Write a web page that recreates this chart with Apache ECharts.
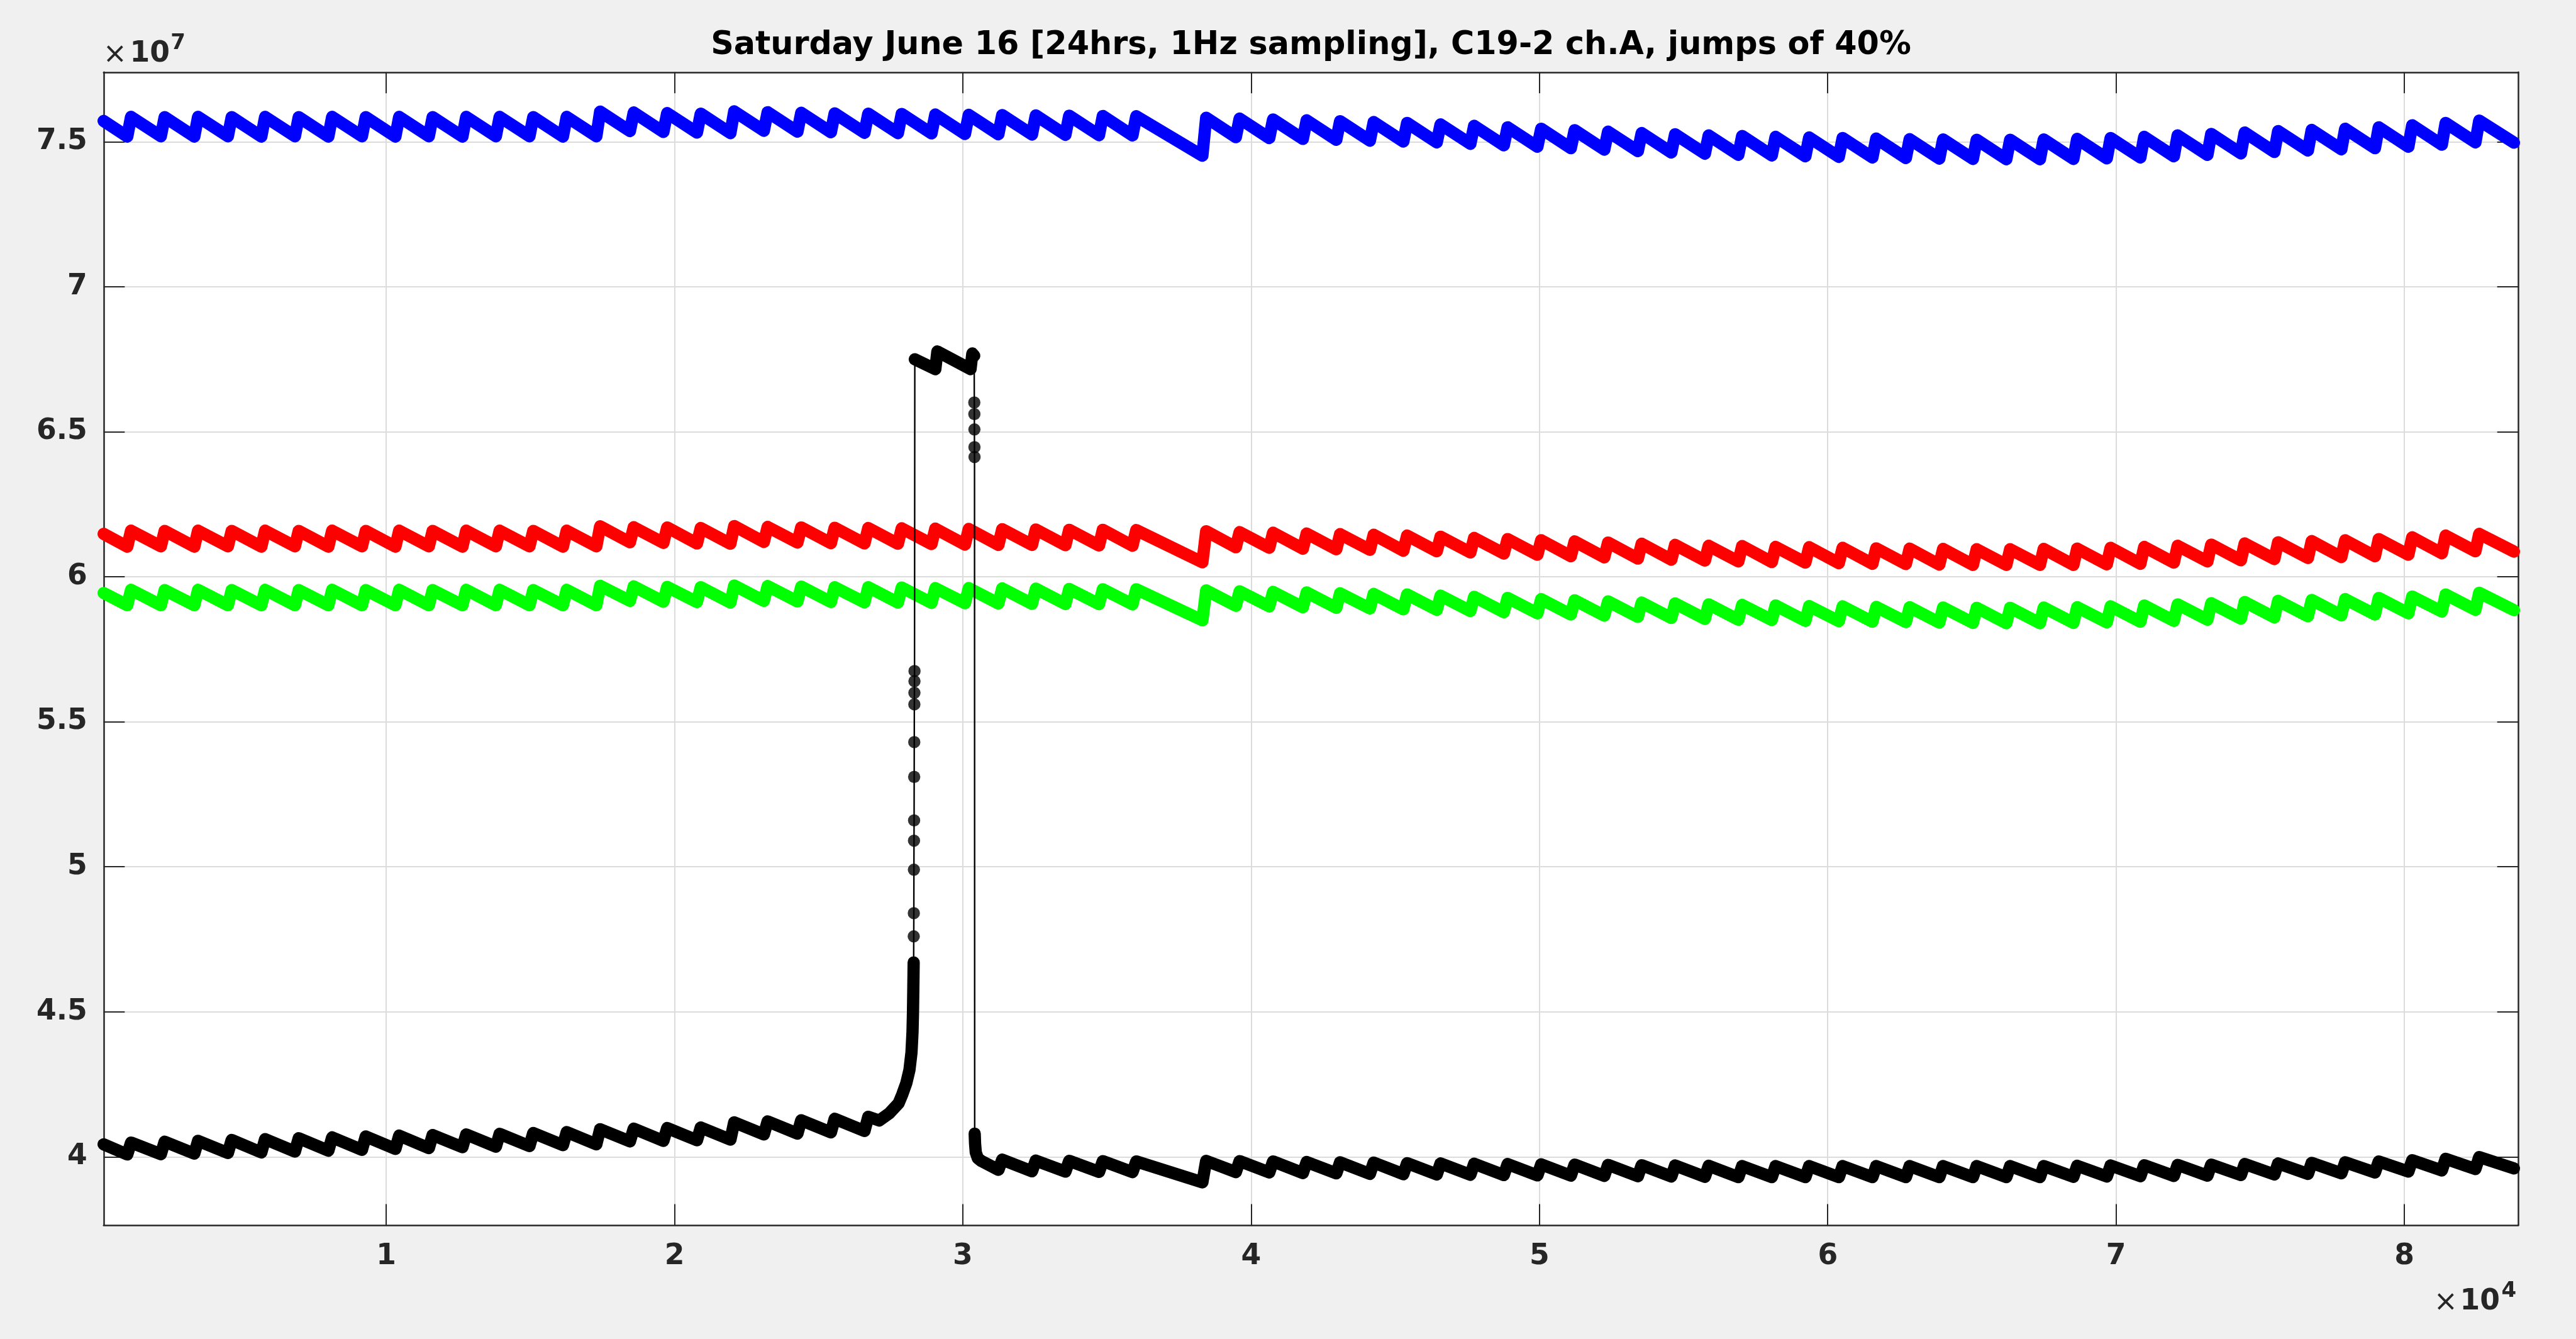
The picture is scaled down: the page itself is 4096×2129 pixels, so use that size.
<!DOCTYPE html>
<html><head><meta charset="utf-8">
<script src="https://cdn.jsdelivr.net/npm/echarts@6/dist/echarts.min.js"></script>
<style>html,body{margin:0;padding:0;background:#f0f0f0;}#c{width:4096px;height:2129px;}</style>
</head><body><div id="c"></div>
<script>
// ---------------- data (time in s, values in units of 1e7) ----------------
const titleText = 'Saturday June 16 [24hrs, 1Hz sampling], C19-2 ch.A, jumps of 40%';
const xTicks = [10000, 20000, 30000, 40000, 50000, 60000, 70000, 80000];
const yTicks = [4, 4.5, 5, 5.5, 6, 6.5, 7, 7.5];
const xMin = 200, xMax = 83950, yMin = 3.764, yMax = 7.74;
const startT = 200, endT = 83800;

// sawtooth peak times (fast rise ends) and trough times (slow decline ends)
const peakT = [1150,2315,3475,4640,5800,6965,8125,9290,10450,11610,12775,13935,15100,16260,17420,18585,19745,20910,22070,23230,24395,25555,26720,27880,29045,30205,31365,32530,33690,34855,36015,
38440,39600,40760,41925,43085,44250,45410,46570,47735,48895,50060,51220,52380,53545,54705,55870,57030,58190,59355,60515,61680,62840,64000,65165,66325,67490,68650,69810,70975,72135,73300,74460,75620,76785,77945,79110,80270,81430,82595];
const troughT = [1020,2185,3345,4510,5670,6835,7995,9160,10320,11480,12645,13805,14970,16130,17290,18455,19615,20780,21940,23100,24265,25425,26590,27750,28915,30075,31235,32400,33560,34725,35885,
38310,39470,40630,41795,42955,44120,45280,46440,47605,48765,49930,51090,52250,53415,54575,55740,56900,58060,59225,60385,61550,62710,63870,65035,66195,67360,68520,69680,70845,72005,73170,74330,75490,76655,77815,78980,80140,81300,82465];

// blue
const blueStart = 7.572, blueEnd = 7.497;
const bluePeak = [7.586,7.585,7.586,7.585,7.586,7.585,7.586,7.585,7.586,7.585,7.586,7.586,7.585,7.586,7.604,7.601,7.599,7.597,7.605,7.602,7.600,7.598,7.597,7.596,7.594,7.593,7.592,7.591,7.590,7.589,7.588,
7.583,7.580,7.577,7.574,7.571,7.568,7.565,7.560,7.555,7.550,7.545,7.540,7.535,7.530,7.526,7.522,7.520,7.517,7.515,7.513,7.511,7.509,7.508,7.507,7.507,7.508,7.510,7.513,7.517,7.522,7.527,7.532,7.537,7.541,7.545,7.550,7.557,7.565,7.573];
const blueTrough = [7.518,7.519,7.518,7.519,7.518,7.519,7.518,7.519,7.518,7.519,7.518,7.519,7.519,7.518,7.519,7.537,7.534,7.532,7.530,7.538,7.535,7.533,7.531,7.530,7.529,7.527,7.526,7.525,7.524,7.523,7.522,
7.452,7.516,7.513,7.510,7.507,7.504,7.501,7.498,7.493,7.488,7.483,7.478,7.473,7.468,7.463,7.459,7.455,7.453,7.450,7.448,7.446,7.444,7.442,7.441,7.440,7.440,7.441,7.443,7.446,7.450,7.455,7.460,7.465,7.470,7.474,7.478,7.483,7.490,7.498];

// red
const redStart = 6.148, redEnd = 6.087;
const redPeak = [6.159,6.158,6.159,6.158,6.159,6.158,6.159,6.158,6.159,6.158,6.159,6.159,6.158,6.159,6.174,6.171,6.170,6.168,6.175,6.172,6.170,6.169,6.168,6.167,6.166,6.165,6.164,6.163,6.162,6.162,6.161,
6.157,6.154,6.152,6.149,6.147,6.145,6.142,6.138,6.134,6.130,6.126,6.122,6.118,6.114,6.110,6.107,6.106,6.103,6.102,6.100,6.098,6.097,6.096,6.095,6.095,6.096,6.097,6.100,6.103,6.107,6.111,6.115,6.119,6.123,6.126,6.130,6.136,6.142,6.148];
const redTrough = [6.104,6.105,6.104,6.105,6.104,6.105,6.104,6.105,6.104,6.105,6.104,6.105,6.105,6.104,6.105,6.119,6.117,6.115,6.114,6.120,6.118,6.116,6.115,6.114,6.113,6.111,6.110,6.110,6.109,6.108,6.107,
6.050,6.102,6.100,6.097,6.095,6.093,6.090,6.088,6.084,6.080,6.076,6.071,6.067,6.063,6.059,6.056,6.053,6.051,6.049,6.047,6.045,6.044,6.042,6.041,6.041,6.041,6.041,6.043,6.045,6.049,6.053,6.057,6.061,6.065,6.068,6.071,6.076,6.081,6.088];

// green
const greenStart = 5.944, greenEnd = 5.885;
const greenPeak = [5.955,5.954,5.955,5.954,5.955,5.954,5.955,5.954,5.955,5.954,5.955,5.955,5.954,5.955,5.969,5.967,5.965,5.964,5.970,5.968,5.966,5.964,5.964,5.963,5.961,5.961,5.960,5.959,5.958,5.957,5.957,
5.953,5.950,5.948,5.946,5.943,5.941,5.939,5.935,5.931,5.927,5.923,5.919,5.915,5.911,5.908,5.905,5.903,5.901,5.899,5.898,5.896,5.895,5.894,5.893,5.893,5.894,5.895,5.898,5.901,5.905,5.909,5.913,5.917,5.920,5.923,5.927,5.932,5.939,5.945];
const greenTrough = [5.902,5.902,5.902,5.902,5.902,5.902,5.902,5.902,5.902,5.902,5.902,5.902,5.902,5.902,5.902,5.917,5.914,5.913,5.911,5.917,5.915,5.913,5.912,5.911,5.910,5.909,5.908,5.907,5.906,5.906,5.905,
5.850,5.900,5.898,5.895,5.893,5.891,5.888,5.886,5.882,5.878,5.874,5.870,5.866,5.862,5.858,5.855,5.852,5.851,5.848,5.847,5.845,5.844,5.842,5.841,5.840,5.840,5.841,5.843,5.845,5.848,5.852,5.856,5.860,5.864,5.867,5.870,5.874,5.880,5.886];

// black (null where the spike replaces the sawtooth)
const blackStart = 4.043, blackEnd = 3.960;
const blackPeak = [4.049,4.052,4.055,4.058,4.061,4.064,4.067,4.070,4.073,4.075,4.077,4.079,4.082,4.085,4.095,4.097,4.099,4.101,4.119,4.122,4.126,4.131,4.138,null,null,null,3.990,3.987,3.986,3.985,3.984,
3.986,3.985,3.984,3.982,3.981,3.980,3.978,3.977,3.976,3.975,3.974,3.973,3.972,3.971,3.970,3.969,3.968,3.968,3.968,3.968,3.968,3.968,3.968,3.968,3.968,3.968,3.969,3.970,3.971,3.972,3.973,3.975,3.977,3.979,3.981,3.984,3.988,3.993,3.999];
const blackTrough = [4.008,4.009,4.011,4.013,4.015,4.018,4.021,4.024,4.027,4.030,4.033,4.035,4.037,4.040,4.043,4.053,4.055,4.057,4.059,4.077,4.080,4.084,4.089,null,null,null,3.955,3.950,3.949,3.948,3.947,
3.912,3.947,3.946,3.944,3.943,3.941,3.940,3.939,3.938,3.937,3.936,3.935,3.934,3.933,3.932,3.931,3.930,3.930,3.930,3.930,3.930,3.930,3.930,3.930,3.930,3.930,3.931,3.932,3.933,3.934,3.935,3.937,3.939,3.941,3.943,3.946,3.949,3.953,3.958];
const blackRampT = [27100,27450,27770,27900,28040,28150,28220,28255,28272,28282,28290,28295];
const blackRampV = [4.125,4.150,4.184,4.215,4.254,4.300,4.360,4.430,4.500,4.570,4.630,4.670];
const blackRiseT = [28298,28301,28304,28307,28310,28313,28316,28319,28321,28323,28325];
const blackRiseV = [4.760,4.840,4.990,5.090,5.160,5.310,5.430,5.560,5.600,5.640,5.675];
const blackPlateauT = [28335,29047,29117,30268,30330,30395];
const blackPlateauV = [6.750,6.716,6.777,6.716,6.770,6.762];
const blackDropT = [30398,30400,30402,30404,30406];
const blackDropV = [6.601,6.561,6.508,6.447,6.413];
const blackSettleT = [30412,30425,30450,30520,30650];
const blackSettleV = [4.080,4.045,4.015,3.995,3.985];

// ---------------- build ----------------
function sawtooth(sv, troughs, peaks, ev, from, to) {
  const d = [];
  if (sv !== null) d.push([startT, sv]);
  for (let i = from; i < to; i++) {
    if (troughs[i] !== null) d.push([troughT[i], troughs[i]]);
    if (peaks[i] !== null) d.push([peakT[i], peaks[i]]);
  }
  if (ev !== null) d.push([endT, ev]);
  return d;
}
const zip = (t, v) => t.map((x, i) => [x, v[i]]);
const N = peakT.length;
const blueData = sawtooth(blueStart, blueTrough, bluePeak, blueEnd, 0, N);
const redData = sawtooth(redStart, redTrough, redPeak, redEnd, 0, N);
const greenData = sawtooth(greenStart, greenTrough, greenPeak, greenEnd, 0, N);
const blackPre = sawtooth(blackStart, blackTrough, blackPeak, null, 0, 23).concat(zip(blackRampT, blackRampV));
const blackPlateau = zip(blackPlateauT, blackPlateauV);
const blackPost = zip(blackSettleT, blackSettleV).concat(sawtooth(null, blackTrough, blackPeak, blackEnd, 26, N));
const blackSparse = zip(blackRiseT, blackRiseV).concat(zip(blackDropT, blackDropV));
const blackAll = blackPre.concat(zip(blackRiseT, blackRiseV), blackPlateau, zip(blackDropT, blackDropV), blackPost);

// ---------------- chart ----------------
const FF = '"DejaVu Sans", "Liberation Sans", sans-serif';
const AX = '#262626';
const W = 19.5;
const chart = echarts.init(document.getElementById('c'), null, {renderer: 'canvas', width: 4096, height: 2129});

const labelStyle = {color: AX, fontFamily: FF, fontWeight: 'bold', fontSize: 45.6};
const tickStyle = {show: true, inside: true, length: 33.5, lineStyle: {color: AX, width: 2}};
const lineAx = {show: true, onZero: false, lineStyle: {color: AX, width: 2.5}};
const split = {show: true, lineStyle: {color: '#dcdcdc', width: 2}};

function thick(name, data, color, width) {
  return {name, type: 'line', data, showSymbol: false, symbol: 'none', clip: false,
    lineStyle: {color, width, cap: 'round', join: 'round'}, emphasis: {disabled: true}, silent: true, animation: false};
}

chart.setOption({
  backgroundColor: '#f0f0f0',
  animation: false,
  grid: {left: 164.8, top: 114.8, width: 3839.4, height: 1833.3, show: true, backgroundColor: '#ffffff', borderWidth: 0, outerBoundsMode: 'none', containLabel: false},
  xAxis: [
    {type: 'value', position: 'bottom', min: xMin, max: xMax, splitNumber: 8, axisLine: lineAx,
     axisTick: Object.assign({customValues: xTicks}, tickStyle),
     axisLabel: Object.assign({customValues: xTicks, margin: 27, formatter: v => String(v / 1e4)}, labelStyle),
     splitLine: split},
    {type: 'value', position: 'top', min: xMin, max: xMax, splitNumber: 8, axisLine: lineAx,
     axisTick: Object.assign({customValues: xTicks}, tickStyle), axisLabel: {show: false}, splitLine: {show: false}}
  ],
  yAxis: [
    {type: 'value', position: 'left', min: yMin, max: yMax, splitNumber: 8, axisLine: lineAx,
     axisTick: Object.assign({customValues: yTicks}, tickStyle),
     axisLabel: Object.assign({customValues: yTicks, margin: 26, formatter: v => String(v)}, labelStyle),
     splitLine: split},
    {type: 'value', position: 'right', min: yMin, max: yMax, splitNumber: 8, axisLine: lineAx,
     axisTick: Object.assign({customValues: yTicks}, tickStyle), axisLabel: {show: false}, splitLine: {show: false}}
  ],
  series: [
    thick('blue', blueData, '#0000ff', W),
    thick('red', redData, '#ff0000', W),
    thick('green', greenData, '#00ff00', W),
    thick('black-line', blackAll, '#000000', 2.4),
    thick('black-pre', blackPre, '#000000', W),
    thick('black-plateau', blackPlateau, '#000000', W),
    thick('black-post', blackPost, '#000000', W),
    {name: 'black-dots', type: 'scatter', data: blackSparse, symbol: 'circle', symbolSize: W,
     itemStyle: {color: '#000000'}, clip: false, silent: true, emphasis: {disabled: true}, animation: false}
  ],
  graphic: [
    {type: 'text', silent: true, style: {text: titleText, x: 2084.5, y: 73.2, textAlign: 'center', textVerticalAlign: 'middle',
      font: 'bold 50.8px ' + FF, fill: '#000000'}},
    {type: 'text', silent: true, style: {text: '\u00d7', x: 182.9, y: 88, textAlign: 'center', textVerticalAlign: 'middle',
      font: 'normal 45.6px ' + FF, fill: AX}},
    {type: 'text', silent: true, style: {text: '10', x: 238.3, y: 86.5, textAlign: 'center', textVerticalAlign: 'middle',
      font: 'bold 45.6px ' + FF, fill: AX}},
    {type: 'text', silent: true, style: {text: '7', x: 283, y: 68.8, textAlign: 'center', textVerticalAlign: 'middle',
      font: 'bold 34px ' + FF, fill: AX}},
    {type: 'text', silent: true, style: {text: '\u00d7', x: 3888.8, y: 2072, textAlign: 'center', textVerticalAlign: 'middle',
      font: 'normal 45.6px ' + FF, fill: AX}},
    {type: 'text', silent: true, style: {text: '10', x: 3943.3, y: 2070.4, textAlign: 'center', textVerticalAlign: 'middle',
      font: 'bold 45.6px ' + FF, fill: AX}},
    {type: 'text', silent: true, style: {text: '4', x: 3989.3, y: 2052.8, textAlign: 'center', textVerticalAlign: 'middle',
      font: 'bold 34px ' + FF, fill: AX}}
  ]
});
</script></body></html>
